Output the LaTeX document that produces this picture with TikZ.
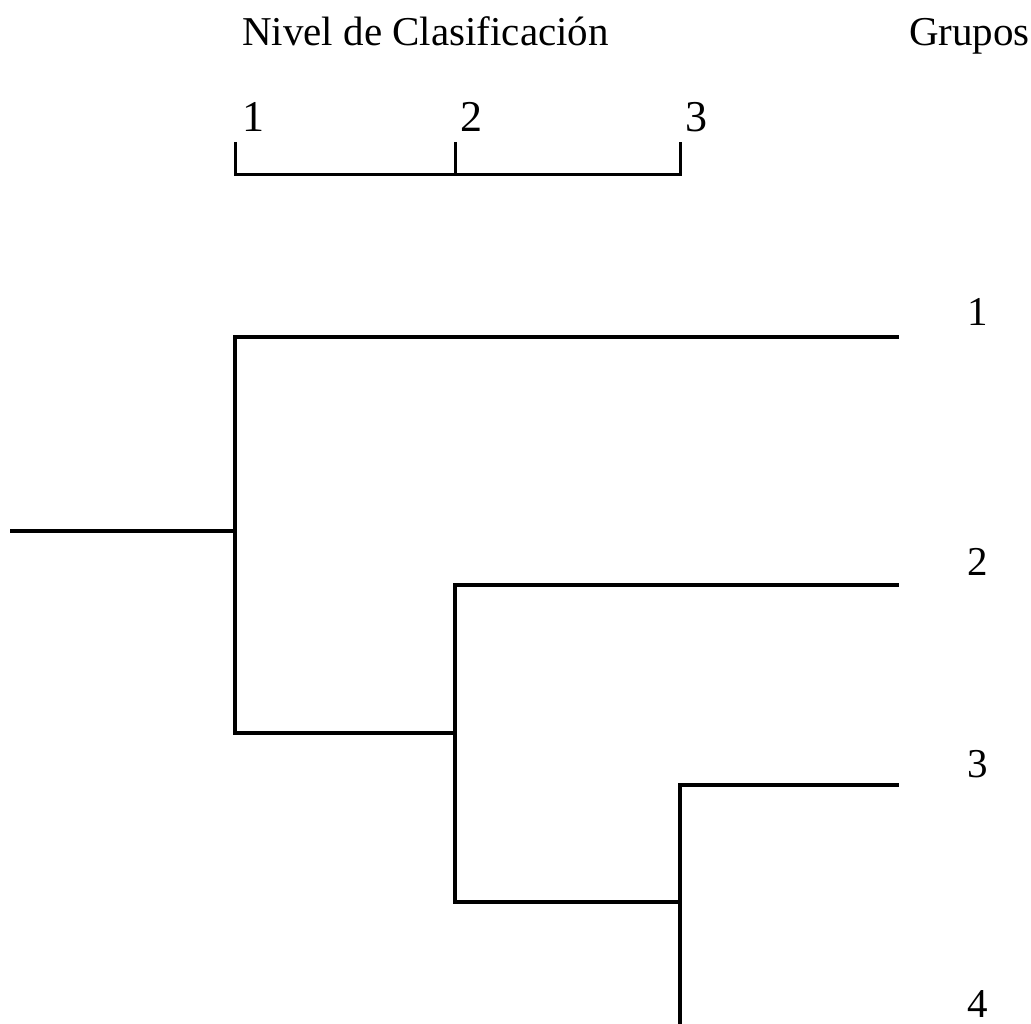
\documentclass[tikz,border=0pt]{standalone}
\usepackage{fontspec}
\setmainfont{Liberation Serif}
\begin{document}
\begin{tikzpicture}[x=1pt,y=-1pt,
  lbl/.style={inner sep=0pt,font=\fontsize{41}{41}\selectfont},
  scl/.style={inner sep=0pt,anchor=base west,font=\fontsize{44}{44}\selectfont},
  grp/.style={inner sep=0pt,anchor=base,font=\fontsize{41}{41}\selectfont},
  branch/.style={line width=3.6pt,line cap=rect},
  scaleline/.style={line width=3pt}]
\useasboundingbox (0,0) rectangle (1031,1024);
% headings
\node[lbl,anchor=base west] (title) at (242,46) {Nivel de Clasificación};
\node[lbl,anchor=base east] (grupos) at (1030,46) {Grupos};
% scale
\node[scl] (s1) at (242,132) {1};
\node[scl] (s2) at (460,132) {2};
\node[scl] (s3) at (685,132) {3};
\coordinate (t1) at (235,142);
\coordinate (t2) at (455,142);
\coordinate (t3) at (680,142);
\coordinate (b1) at (235,175);
\coordinate (b2) at (455,175);
\coordinate (b3) at (680,175);
\draw[scaleline] (t1) -- (b1) -- (b3) -- (t3);
\draw[scaleline] (t2) -- (b2);
% group labels
\node[grp] (g1) at (978,326) {1};
\node[grp] (g2) at (978,575) {2};
\node[grp] (g3) at (978,777) {3};
\node[grp] (g4) at (978,1017) {4};
% dendrogram
\coordinate (root) at (12,531);
\coordinate (m1) at (235,531);
\coordinate (m1t) at (235,337);
\coordinate (m1b) at (235,733);
\coordinate (l1) at (897,337);
\coordinate (m2) at (455,733);
\coordinate (m2t) at (455,585);
\coordinate (m2b) at (455,902);
\coordinate (l2) at (897,585);
\coordinate (m3) at (680,902);
\coordinate (m3t) at (680,785);
\coordinate (m3b) at (680,1030);
\coordinate (l3) at (897,785);
\draw[branch] (root) -- (m1);
\draw[branch] (l1) -- (m1t) -- (m1b) -- (m2);
\draw[branch] (l2) -- (m2t) -- (m2b) -- (m3);
\draw[branch] (l3) -- (m3t) -- (m3b);
\end{tikzpicture}
\end{document}
